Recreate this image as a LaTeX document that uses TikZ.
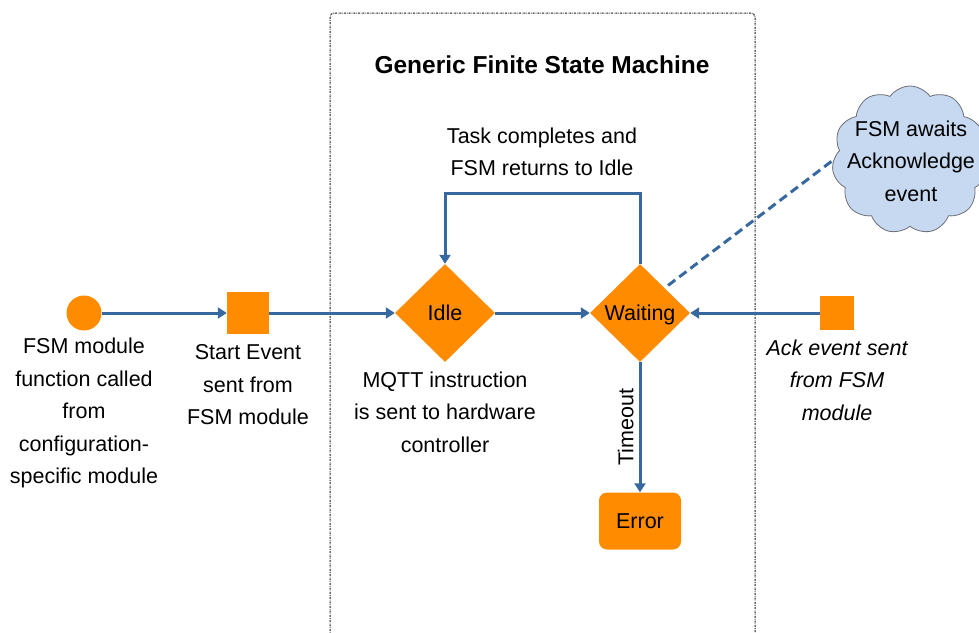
\documentclass[tikz,border=0pt]{standalone}
\usepackage{fontspec}
\setmainfont{Liberation Sans}
\usetikzlibrary{shapes.geometric,shapes.symbols,arrows.meta}
\definecolor{stateorange}{RGB}{255,140,0}
\definecolor{flowblue}{RGB}{56,104,160}
\definecolor{cloudfill}{RGB}{198,217,240}
\definecolor{cloudline}{RGB}{110,110,120}
\tikzset{
  every node/.style={font=\fontsize{21.5}{32.5}\selectfont},
  txt/.style={align=center, inner sep=0pt},
  capcentred/.style={text height=15.4pt, text depth=0pt},
  statediamond/.style={diamond, fill=stateorange, minimum width=100pt, minimum height=98pt, inner sep=0pt, aspect=1, capcentred},
  eventbox/.style={rectangle, fill=stateorange, inner sep=0pt},
  flow/.style={draw=flowblue, line width=3pt, -{Triangle[width=11pt,length=9pt]}},
}
\begin{document}
\begin{tikzpicture}[x=1pt,y=-1pt]
\useasboundingbox (0,0) rectangle (979,632);

% frame of the generic state machine
\draw[black!90, line width=1pt, dash pattern=on 2pt off 1pt on 0.6pt off 1pt, rounded corners=4pt]
  (330,700) -- (330,13) -- (755,13) -- (755,700);
\node[txt, font=\bfseries\fontsize{24.5}{30}\selectfont] (title) at (542,65) {Generic Finite State Machine};

% nodes
\node[circle, fill=stateorange, minimum size=35pt, inner sep=0pt] (call) at (84,313) {};
\node[eventbox, minimum size=42pt] (start) at (248,313) {};
\node[statediamond] (idle) at (445,313) {Idle};
\node[statediamond] (wait) at (640,313) {Waiting};
\node[eventbox, minimum size=34pt] (ack) at (837,313) {};
\node[rectangle, rounded corners=8pt, fill=stateorange, minimum width=82pt, minimum height=57pt, inner sep=0pt, capcentred] (err) at (640,521) {Error};
\node[cloud, cloud puffs=11, cloud puff arc=110, aspect=1.05, fill=cloudfill, draw=cloudline, line width=0.8pt,
      minimum width=156pt, minimum height=148pt, inner sep=0pt] (cloudbg) at (910,160) {};
\node[txt] (cloudtxt) at (911,161) {FSM awaits\\Acknowledge\\event};

% labels
\node[txt] (calltxt) at (84,413) {FSM module\\function called\\from\\configuration-\\specific module};
\node[txt] (starttxt) at (248,385) {Start Event\\sent from\\FSM module};
\node[txt] (mqtt) at (445,412) {MQTT instruction\\is sent to hardware\\controller};
\node[txt, font=\itshape\fontsize{21.5}{32.5}\selectfont] (acktxt) at (837,380) {Ack event sent\\from FSM\\module};
\node[txt] (loop) at (542,152) {Task completes and\\FSM returns to Idle};

% connectors
\draw[flow] (call) -- (start);
\draw[flow] (start) -- (idle);
\draw[flow] (idle) -- (wait);
\draw[flow] (ack) -- (wait);
\coordinate (lr) at (640,193);
\coordinate (ll) at (445,193);
\draw[flow] (wait.north) -- (lr) -- (ll) -- (idle.north);
\draw[flow] (wait.south) -- node[txt, rotate=90, above=5pt, anchor=south] (tmo) {Timeout} (err.north);
\draw[flowblue, line width=3pt, dash pattern=on 9pt off 5pt] (wait.north east) ++(3,-3) coordinate (dstart) -- (cloudbg.west);
\end{tikzpicture}
\end{document}
